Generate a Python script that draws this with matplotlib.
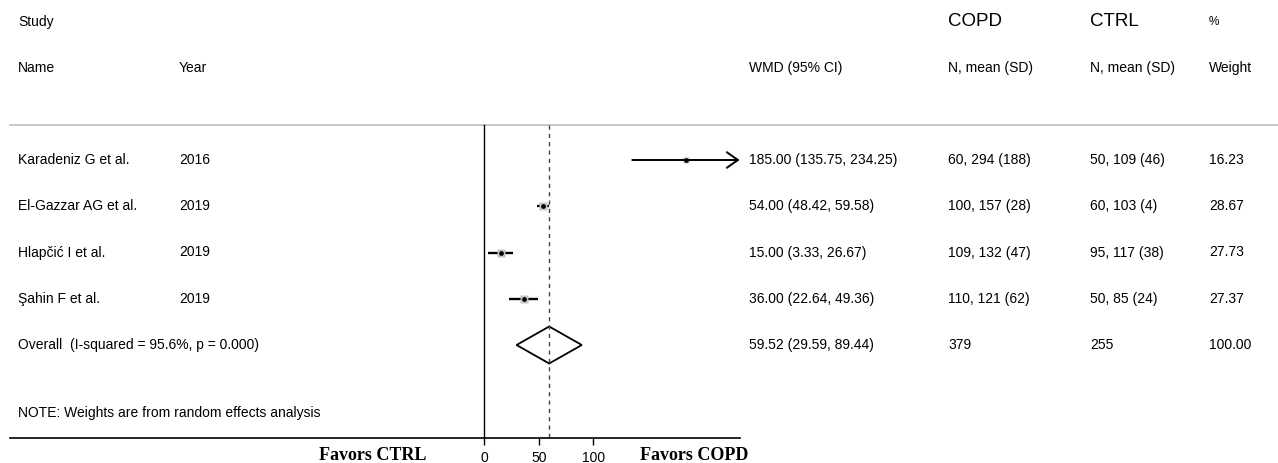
import numpy as np
import matplotlib.pyplot as plt
import matplotlib.transforms as mtransforms
from matplotlib.patches import Polygon

plt.rcParams['font.family'] = ['Liberation Sans', 'DejaVu Sans']

# ── study data ──────────────────────────────────────────────────────────────
studies = ['Karadeniz G et al.', 'El-Gazzar AG et al.', 'Hlapčić I et al.', 'Şahin F et al.']
years   = ['2016', '2019', '2019', '2019']
wmd     = [185.00, 54.00, 15.00, 36.00]
ci_lo   = [135.75, 48.42, 3.33, 22.64]
ci_hi   = [234.25, 59.58, 26.67, 49.36]
copd_txt = ['60, 294 (188)', '100, 157 (28)', '109, 132 (47)', '110, 121 (62)']
ctrl_txt = ['50, 109 (46)', '60, 103 (4)', '95, 117 (38)', '50, 85 (24)']
weights = [16.23, 28.67, 27.73, 27.37]

overall_label = 'Overall  (I-squared = 95.6%, p = 0.000)'
overall_est, overall_lo, overall_hi = 59.52, 29.59, 89.44
overall_copd, overall_ctrl, overall_w = '379', '255', 100.00

ticks = [0, 50, 100]
x_max = 234.25          # upper end of the plotted scale; CIs beyond it get an arrow

W, H = 1278, 463
fig = plt.figure(figsize=(W / 100, H / 100), dpi=100)
ax = fig.add_axes([0, 0, 1, 1])

# x: 0 sits at 484 px, 1.09 px per unit; y: one unit per row, row 0 at 160 px
px0, sx = 484.3, 1.09
row0, sy = 160.0, 46.25
ax.set_xlim(-px0 / sx, (W - px0) / sx)
ax.set_ylim((H - row0) / sy, -row0 / sy)

def ypx(p):
    return (p - row0) / sy

def xpx(p):
    return (p - px0) / sx

trans = mtransforms.blended_transform_factory(ax.transAxes, ax.transData)
col = {'name': 18, 'year': 179, 'wmd': 749, 'copd': 948, 'ctrl': 1090, 'w': 1209}
fs = 10

def put(colname, y, s, **kw):
    ax.text(col[colname] / W, y, s, transform=trans, ha='left', va='center',
            fontsize=kw.pop('fontsize', fs), **kw)

# headers
put('name', ypx(22), 'Study')
put('name', ypx(68), 'Name')
put('year', ypx(68), 'Year')
put('wmd', ypx(68), 'WMD (95% CI)')
put('copd', ypx(22), 'COPD', fontsize=13.5)
put('copd', ypx(68), 'N, mean (SD)')
put('ctrl', ypx(22), 'CTRL', fontsize=13.5)
put('ctrl', ypx(68), 'N, mean (SD)')
put('w', ypx(22), '%', fontsize=8.5)
put('w', ypx(68), 'Weight')

ax.axhline(ypx(125), xmin=10 / W, xmax=1, color='#bdbdbd', lw=1.2)

rows = np.arange(len(studies))
y_top, y_axis = ypx(125), ypx(438)

# null line and overall estimate line
ax.plot([0, 0], [y_top, y_axis], color='black', lw=1)
ax.plot([overall_est, overall_est], [y_top, y_axis], color='#444444', lw=1,
        ls=(0, (3, 3)))

for r, name, yr, m, lo, hi, c1, c2, w in zip(rows, studies, years, wmd, ci_lo, ci_hi,
                                            copd_txt, ctrl_txt, weights):
    if hi >= x_max:
        ax.annotate('', xy=(x_max, r), xytext=(lo, r),
                    arrowprops=dict(arrowstyle='->,head_length=0.4,head_width=0.28',
                                    color='black', lw=1.4, shrinkA=0, shrinkB=0,
                                    mutation_scale=20))
    else:
        ax.plot([lo, hi], [r, r], color='black', lw=1.7, solid_capstyle='butt')
    ax.plot(m, r, marker='s', ms=1.1 * np.sqrt(w), color='#c4c4c4', mec='none')
    ax.plot(m, r, marker='o', ms=3.4, color='black', mec='none')
    put('name', r, name)
    put('year', r, yr)
    put('wmd', r, f'{m:.2f} ({lo:.2f}, {hi:.2f})')
    put('copd', r, c1)
    put('ctrl', r, c2)
    put('w', r, f'{w:.2f}')

# pooled estimate diamond
r_ov = len(studies)
half_h = 0.4
ax.add_patch(Polygon([(overall_lo, r_ov), (overall_est, r_ov - half_h),
                      (overall_hi, r_ov), (overall_est, r_ov + half_h)],
                     closed=True, facecolor='white', edgecolor='black', lw=1.3))
put('name', r_ov, overall_label)
put('wmd', r_ov, f'{overall_est:.2f} ({overall_lo:.2f}, {overall_hi:.2f})')
put('copd', r_ov, overall_copd)
put('ctrl', r_ov, overall_ctrl)
put('w', r_ov, f'{overall_w:.2f}')

put('name', ypx(413), 'NOTE: Weights are from random effects analysis')

# bottom axis
for s in ['top', 'right', 'left']:
    ax.spines[s].set_visible(False)
ax.spines['bottom'].set_position(('data', y_axis))
ax.spines['bottom'].set_bounds(xpx(10), x_max)
ax.spines['bottom'].set_linewidth(1.2)
ax.set_yticks([])
ax.set_xticks(ticks)
ax.tick_params(axis='x', direction='out', length=5, width=1, labelsize=10, pad=4)
ax.patch.set_visible(False)

ax.text(xpx(373), ypx(456), 'Favors CTRL', ha='center', va='center', fontsize=13,
        fontweight='bold', family='Liberation Serif')
ax.text(xpx(694), ypx(456), 'Favors COPD', ha='center', va='center', fontsize=13,
        fontweight='bold', family='Liberation Serif')

fig.savefig('out.png', dpi=100, facecolor='white')
